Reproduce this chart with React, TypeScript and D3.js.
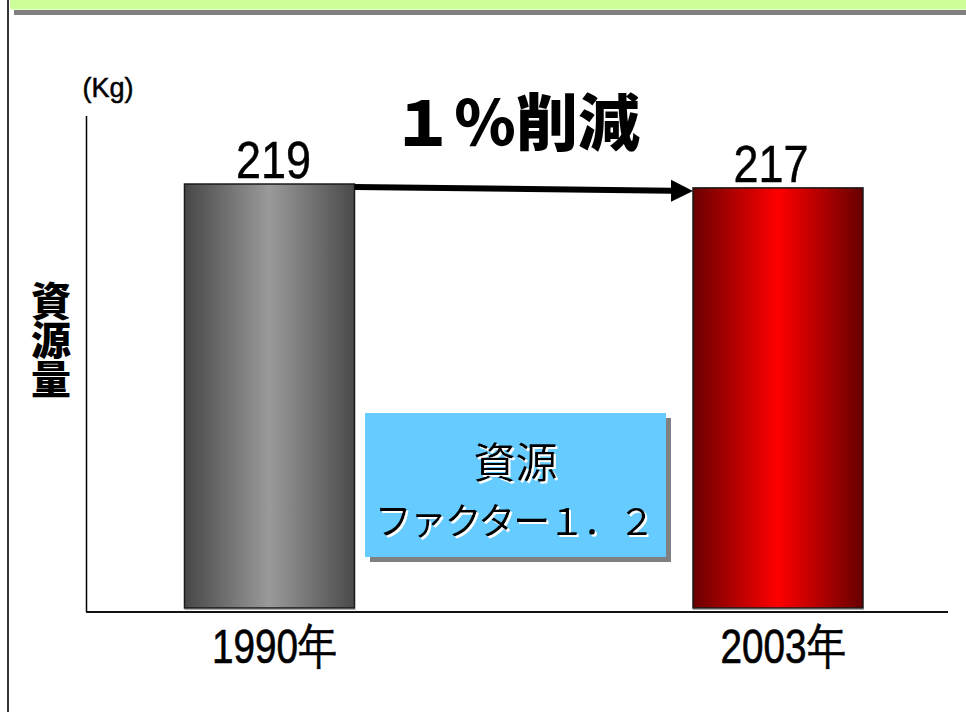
import React from "react";
import * as d3 from "d3";

const categories = ["1990年", "2003年"];
const values = [219, 217];
const valueLabels = ["219", "217"];
const title = "１％削減";
const unitLabel = "(Kg)";
const yLabel = "資源量";
const boxLines = ["資源", "ファクター１．２"];

const W = 966;
const H = 712;

export default function App() {
  const x = d3.scalePoint<string>().domain(categories).range([269.5, 778]);
  const y = d3.scaleLinear().domain([0, 250]).range([608, 124]);
  const barW = 170;
  const jp = "'Noto Sans CJK JP', sans-serif";
  const latin = "'Liberation Sans', Arial, sans-serif";
  const labelShift = [4, -7];

  const x0 = x(categories[0])!;
  const x1 = x(categories[1])!;
  const arrowStartX = x0 + barW / 2;
  const arrowEndX = x1 - barW / 2;
  const arrowY0 = y(values[0]) + 3;
  const arrowY1 = y(values[1]) + 3;
  const headLen = 22;
  const ang = Math.atan2(arrowY1 - arrowY0, arrowEndX - arrowStartX);
  const hx = arrowEndX - headLen * Math.cos(ang);
  const hy = arrowY1 - headLen * Math.sin(ang);

  return (
    <div style={{ position: "fixed", left: 0, top: 0, width: W, height: H, background: "#fff" }}>
      <svg width={W} height={H} viewBox={`0 0 ${W} ${H}`}>
        <defs>
          <linearGradient id="gGray" x1="0" x2="1" y1="0" y2="0">
            <stop offset="0" stopColor="#474747" />
            <stop offset="0.5" stopColor="#9a9a9a" />
            <stop offset="1" stopColor="#4a4a4a" />
          </linearGradient>
          <linearGradient id="gRed" x1="0" x2="1" y1="0" y2="0">
            <stop offset="0" stopColor="#6a0000" />
            <stop offset="0.5" stopColor="#ff0000" />
            <stop offset="1" stopColor="#660000" />
          </linearGradient>
          <filter id="whiteShadow" x="-5%" y="-10%" width="115%" height="130%">
            <feOffset in="SourceAlpha" dx="2" dy="2" result="off" />
            <feFlood floodColor="#ffffff" result="white" />
            <feComposite in="white" in2="off" operator="in" result="sh" />
            <feMerge>
              <feMergeNode in="sh" />
              <feMergeNode in="SourceGraphic" />
            </feMerge>
          </filter>
        </defs>

        {/* header bands */}
        <rect x={10} y={0} width={W - 10} height={9.5} fill="#ccff99" />
        <rect x={14} y={10} width={W - 14} height={5} fill="#808080" />
        <line x1={8} y1={0} x2={8} y2={H} stroke="#000" strokeWidth={1.6} />

        {/* axes */}
        <line x1={86.5} y1={116} x2={86.5} y2={612} stroke="#000" strokeWidth={1.5} />
        <line x1={86} y1={612} x2={948} y2={612} stroke="#111" strokeWidth={2} />

        {/* bars */}
        {categories.map((c, i) => {
          const cx = x(c)!;
          const top = y(values[i]);
          const bottom = y(0);
          return (
            <g key={c}>
              <line x1={cx - barW / 2} y1={bottom + 1.5} x2={cx + barW / 2 + 1} y2={bottom + 1.5} stroke="#aaa" strokeWidth={1} />
              <rect
                x={cx - barW / 2}
                y={top}
                width={barW}
                height={bottom - top}
                fill={i === 0 ? "url(#gGray)" : "url(#gRed)"}
                stroke="#1a1a1a"
                strokeWidth={1.5}
              />
              <text
                transform={`translate(${cx + labelShift[i]},${top - 6}) scale(1,1.17)`}
                textAnchor="middle"
                fontFamily={latin}
                fontSize={45}
                fill="#000"
                stroke="#000"
                strokeWidth={0.4}
              >
                {valueLabels[i]}
              </text>
              <text
                transform={`translate(${cx + 5},663) scale(0.86,1.08)`}
                textAnchor="middle"
                fontFamily={latin}
                fontSize={45}
                fill="#000"
                stroke="#000"
                strokeWidth={0.6}
              >
                {c}
              </text>
            </g>
          );
        })}

        {/* arrow */}
        <line x1={arrowStartX} y1={arrowY0} x2={hx + 1} y2={hy} stroke="#000" strokeWidth={6} />
        <polygon
          points={`${arrowEndX},${arrowY1} ${hx},${hy - 11} ${hx},${hy + 11}`}
          fill="#000"
        />

        {/* title */}
        <text x={516} y={146} textAnchor="middle" fontFamily={jp} fontWeight={900} fontSize={62} fill="#000">
          {title}
        </text>

        {/* unit */}
        <text x={108} y={97} textAnchor="middle" fontFamily={latin} fontSize={27} fill="#000" stroke="#000" strokeWidth={0.5}>
          {unitLabel}
        </text>

        {/* y label (vertical) */}
        <text
          x={51}
          y={281}
          fontFamily={jp}
          fontWeight={900}
          fontSize={40}
          letterSpacing={-1}
          fill="#000"
          style={{ writingMode: "vertical-rl" }}
        >
          {yLabel}
        </text>

        {/* annotation box */}
        <rect x={370} y={418} width={301} height={144} fill="#808080" />
        <rect x={365} y={413} width={301} height={144} fill="#66ccff" />
        <text textAnchor="middle" fontFamily={jp} fill="#000" filter="url(#whiteShadow)">
          <tspan x={515.5} y={478} fontSize={42}>
            {boxLines[0]}
          </tspan>
          <tspan x={514} y={535} fontSize={37} letterSpacing={-2}>
            {boxLines[1]}
          </tspan>
        </text>
      </svg>
    </div>
  );
}
